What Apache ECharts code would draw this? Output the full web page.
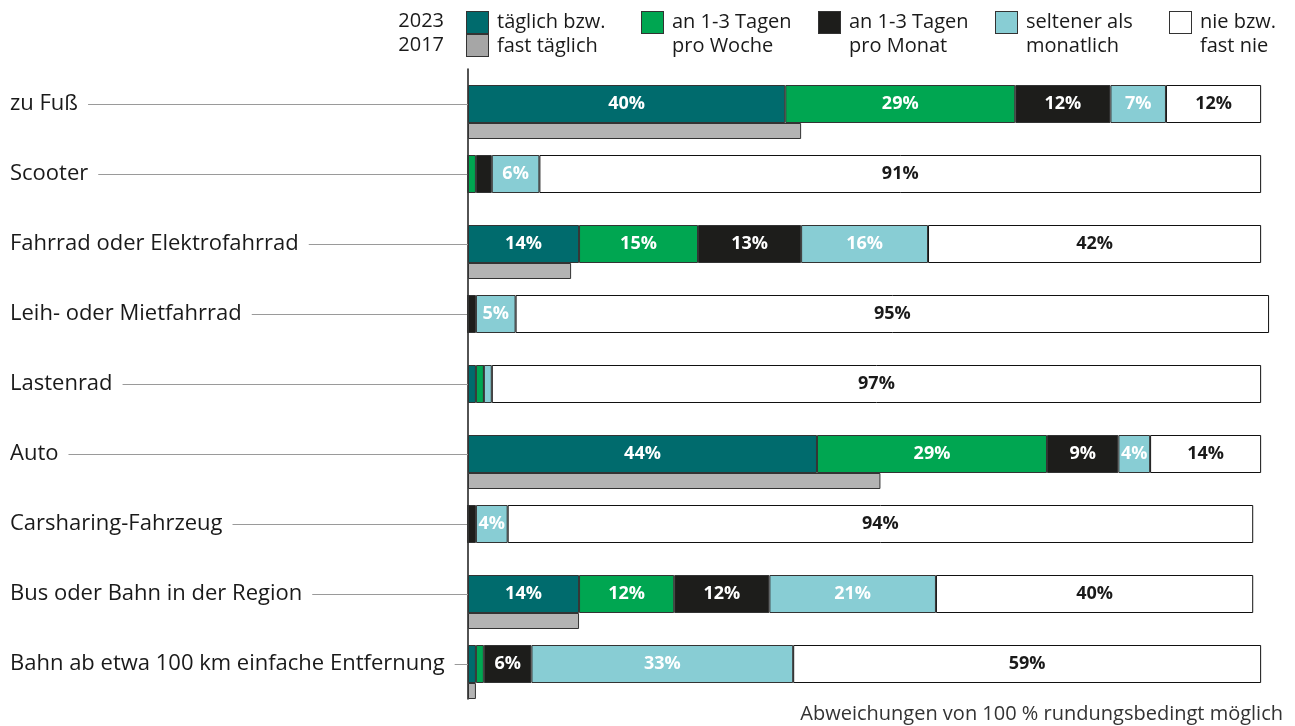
<!DOCTYPE html>
<html>
<head>
<meta charset="utf-8">
<script src="https://cdn.jsdelivr.net/npm/echarts@6/dist/echarts.min.js"></script>
<style>
  html, body { margin: 0; padding: 0; background: #fff; }
  #chart { width: 1295px; height: 726px; }
</style>
</head>
<body>
<div id="chart"></div>
<script>
const categories = ['zu Fuß', 'Scooter', 'Fahrrad oder Elektrofahrrad', 'Leih- oder Mietfahrrad', 'Lastenrad',
  'Auto', 'Carsharing-Fahrzeug', 'Bus oder Bahn in der Region', 'Bahn ab etwa 100 km einfache Entfernung']
const daily2023 = [40, 0, 14, 0, 1, 44, 0, 14, 1]
const weekly2023 = [29, 1, 15, 0, 1, 29, 0, 12, 1]
const monthly2023 = [12, 2, 13, 1, 0, 9, 1, 12, 6]
const rarely2023 = [7, 6, 16, 5, 1, 4, 4, 21, 33]
const never2023 = [12, 91, 42, 95, 97, 14, 94, 40, 59]
const daily2017 = [42, null, 13, null, null, 52, null, 14, 1]
const seriesNames = ['täglich bzw.\nfast täglich', 'an 1-3 Tagen\npro Woche', 'an 1-3 Tagen\npro Monat', 'seltener als\nmonatlich', 'nie bzw.\nfast nie']

const colors = ['#006b6d', '#00a651', '#1d1d1b', '#88cdd4', '#ffffff']
const grey = '#b3b3b3'
const font = '"Open Sans", "Noto Sans", sans-serif'

function icon(top, bottom) {
  let svg = '<svg xmlns="http://www.w3.org/2000/svg" width="23" height="46">' +
    '<rect x="0.5" y="0.5" width="22" height="22" fill="' + top + '" stroke="#333" stroke-width="1"/>'
  if (bottom) svg += '<rect x="0.5" y="23.5" width="22" height="22" fill="' + bottom + '" stroke="#333" stroke-width="1"/>'
  svg += '</svg>'
  return 'image://data:image/svg+xml;charset=utf-8,' + encodeURIComponent(svg)
}

const legendLeft = [466, 641, 818, 995, 1169]
const legends = seriesNames.map((name, i) => ({
  left: legendLeft[i],
  top: 10,
  padding: 0,
  selectedMode: false,
  itemWidth: 23,
  itemHeight: 46,
  data: [{name: name, icon: i === 0 ? icon(colors[0], '#a6a6a6') : icon(colors[i])}],
  textStyle: {fontFamily: font, fontSize: 20, lineHeight: 24, color: '#1a1a1a', padding: [0, 0, 0, 3]}
}))

const values2023 = [daily2023, weekly2023, monthly2023, rarely2023, never2023]
const barSeries = values2023.map((vals, i) => ({
  name: seriesNames[i],
  type: 'bar',
  stack: '2023',
  xAxisIndex: 0,
  yAxisIndex: 0,
  barWidth: 38,
  data: vals,
  itemStyle: {color: colors[i], borderColor: i === 4 ? '#111' : '#333', borderWidth: 1},
  label: {
    show: true,
    position: 'inside',
    fontFamily: font,
    fontSize: 18,
    fontWeight: 'bold',
    color: i === 4 ? '#1a1a1a' : '#ffffff',
    formatter: p => (p.value >= 3 ? p.value + '%' : '')
  }
}))

const option = {
  animation: false,
  legend: legends,
  grid: [
    {left: 468, width: 809, top: 69, height: 630},
    {left: 468, width: 809, top: 96, height: 630}
  ],
  xAxis: [
    {gridIndex: 0, type: 'value', min: 0, max: 102, show: false},
    {gridIndex: 1, type: 'value', min: 0, max: 102, show: false}
  ],
  yAxis: [
    {
      gridIndex: 0,
      type: 'category',
      inverse: true,
      data: categories,
      axisLine: {show: true, lineStyle: {color: '#1a1a1a', width: 1.5}},
      axisTick: {show: true, alignWithLabel: true, length: 458, lineStyle: {color: '#9a9a9a', width: 1}},
      axisLabel: {
        margin: 458,
        align: 'left',
        fontFamily: font,
        fontSize: 22,
        color: '#1a1a1a',
        backgroundColor: '#ffffff',
        padding: [0, 10, 0, 0]
      }
    },
    {
      gridIndex: 1,
      type: 'category',
      inverse: true,
      data: categories,
      show: false
    }
  ],
  series: barSeries.concat([{
    name: '2017',
    type: 'bar',
    xAxisIndex: 1,
    yAxisIndex: 1,
    barWidth: 16,
    data: daily2017,
    itemStyle: {color: grey, borderColor: '#333', borderWidth: 1}
  }]),
  graphic: [
    {
      type: 'text',
      right: 851,
      top: 9,
      style: {text: '2023\n2017', font: '20px ' + font, lineHeight: 24, fill: '#1a1a1a', align: 'right'}
    },
    {
      type: 'text',
      right: 12,
      bottom: 2,
      style: {text: 'Abweichungen von 100 % rundungsbedingt möglich', font: '20px ' + font, fill: '#333'}
    }
  ]
}

const chart = echarts.init(document.getElementById('chart'))
chart.setOption(option)
</script>
</body>
</html>
